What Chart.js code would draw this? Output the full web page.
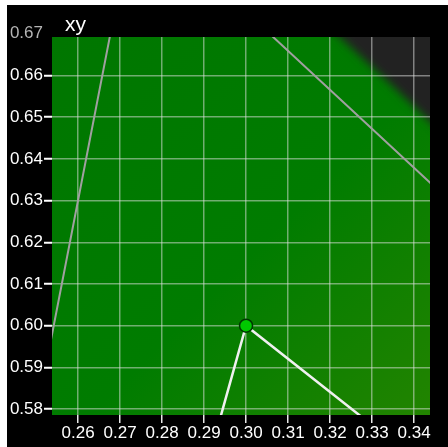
<!DOCTYPE html>
<html>
<head>
<meta charset="utf-8">
<script src="https://cdn.jsdelivr.net/npm/chart.js@4/dist/chart.umd.min.js"></script>
<style>
  html, body { margin: 0; padding: 0; background: #fff; }
  #wrap { position: absolute; left: 7px; top: 5px; width: 441px; height: 442px; background: #000; }
  canvas { display: block; }
</style>
</head>
<body>
<div id="wrap"><canvas id="c" width="441" height="442"></canvas></div>
<script>
// ---- data ----
const titleText = 'xy';
const xTicks = [0.26, 0.27, 0.28, 0.29, 0.30, 0.31, 0.32, 0.33, 0.34];
const yTicks = [0.58, 0.59, 0.60, 0.61, 0.62, 0.63, 0.64, 0.65, 0.66, 0.67];
const xRange = [0.2538, 0.3438];
const yRange = [0.5786, 0.6692];
// sRGB gamut triangle (blue, green, red)
const srgbGamut = [[0.15, 0.06], [0.30, 0.60], [0.64, 0.33]];
// second (wider) gamut
const wideGamut = [[0.15, 0.06], [0.2735, 0.70], [0.68, 0.32]];
// highlighted primary
const markedPoint = [[0.30, 0.60]];
// spectral locus segment (outer boundary)
const spectralLocus = [[0.1547, 0.8059], [0.2296, 0.7543], [0.3016, 0.6923], [0.3373, 0.6589], [0.3731, 0.6245], [0.4441, 0.5547]];

const toXY = arr => arr.map(p => ({x: p[0], y: p[1]}));
const outside = c => c.tick && c.tick.value > yRange[1];

const bgPlugin = {
  id: 'cieBackground',
  beforeDraw(chart) {
    const {ctx, chartArea: a, scales: {x, y}} = chart;
    ctx.save();
    ctx.beginPath();
    ctx.rect(a.left, a.top, a.right - a.left, a.bottom - a.top);
    ctx.clip();
    const g = ctx.createLinearGradient(a.left, a.top, a.right, a.bottom);
    g.addColorStop(0, 'rgb(0,118,0)');
    g.addColorStop(0.55, 'rgb(0,124,0)');
    g.addColorStop(1, 'rgb(34,132,0)');
    ctx.fillStyle = g;
    ctx.fillRect(a.left, a.top, a.right - a.left, a.bottom - a.top);
    // outside the spectral locus (soft edge)
    ctx.filter = 'blur(4px)';
    ctx.translate(-8, 8);
    ctx.beginPath();
    spectralLocus.forEach((p, i) => {
      const px = x.getPixelForValue(p[0]), py = y.getPixelForValue(p[1]);
      if (i === 0) ctx.moveTo(px, py); else ctx.lineTo(px, py);
    });
    ctx.lineTo(a.right + 200, a.top - 200);
    ctx.lineTo(a.left - 200, a.top - 200);
    ctx.closePath();
    ctx.fillStyle = '#222';
    ctx.fill();
    ctx.filter = 'none';
    ctx.restore();
  }
};

const titlePlugin = {
  id: 'cornerTitle',
  afterDraw(chart) {
    const {ctx, chartArea: a} = chart;
    ctx.save();
    ctx.fillStyle = '#fff';
    ctx.font = '21px "Liberation Sans", Arial, sans-serif';
    ctx.textBaseline = 'alphabetic';
    ctx.textAlign = 'left';
    ctx.fillText(titleText, a.left + 13, a.top - 6);
    ctx.restore();
  }
};

const tickFont = {family: '"Liberation Sans", Arial, sans-serif', size: 17};

new Chart(document.getElementById('c'), {
  type: 'scatter',
  data: {
    datasets: [
      {
        data: toXY(markedPoint),
        pointRadius: 6.5, pointHoverRadius: 6.5,
        backgroundColor: 'rgb(0,200,0)', borderColor: '#003800', borderWidth: 1.5
      },
      {
        data: toXY(srgbGamut), showLine: true,
        borderColor: '#f0f0f0', borderWidth: 2.5, pointRadius: 0
      },
      {
        data: toXY(wideGamut), showLine: true,
        borderColor: '#a0a0a0', borderWidth: 2, pointRadius: 0
      }
    ]
  },
  options: {
    responsive: false,
    animation: false,
    devicePixelRatio: 1,
    layout: {padding: {top: 32, right: 18, left: 0, bottom: 0}},
    plugins: {legend: {display: false}, tooltip: {enabled: false}, title: {display: false}},
    scales: {
      x: {
        type: 'linear', min: xRange[0], max: xRange[1],
        afterBuildTicks: s => { s.ticks = xTicks.map(v => ({value: v})); },
        afterFit: s => { s.height = 32; },
        border: {display: false},
        grid: {color: 'rgba(225,225,225,0.5)', lineWidth: 1.5, tickLength: 8, tickColor: '#e8e8e8', tickWidth: 1.5},
        ticks: {color: '#fff', font: tickFont, padding: 0, autoSkip: false, maxRotation: 0,
                callback: v => Number(v).toFixed(2)}
      },
      y: {
        type: 'linear', min: yRange[0], max: yRange[1],
        afterBuildTicks: s => { s.ticks = yTicks.map(v => ({value: v})); },
        afterFit: s => { s.width = 45; },
        border: {display: false},
        grid: {color: c => outside(c) ? 'rgba(0,0,0,0)' : 'rgba(225,225,225,0.5)', lineWidth: 1.5, tickLength: 8,
               tickColor: c => outside(c) ? 'rgba(0,0,0,0)' : '#fff', tickWidth: 2},
        ticks: {color: c => outside(c) ? '#b4b4b4' : '#fff',
                font: tickFont, padding: 1, autoSkip: false,
                callback: v => Number(v).toFixed(2)}
      }
    }
  },
  plugins: [bgPlugin, titlePlugin]
});
</script>
</body>
</html>
